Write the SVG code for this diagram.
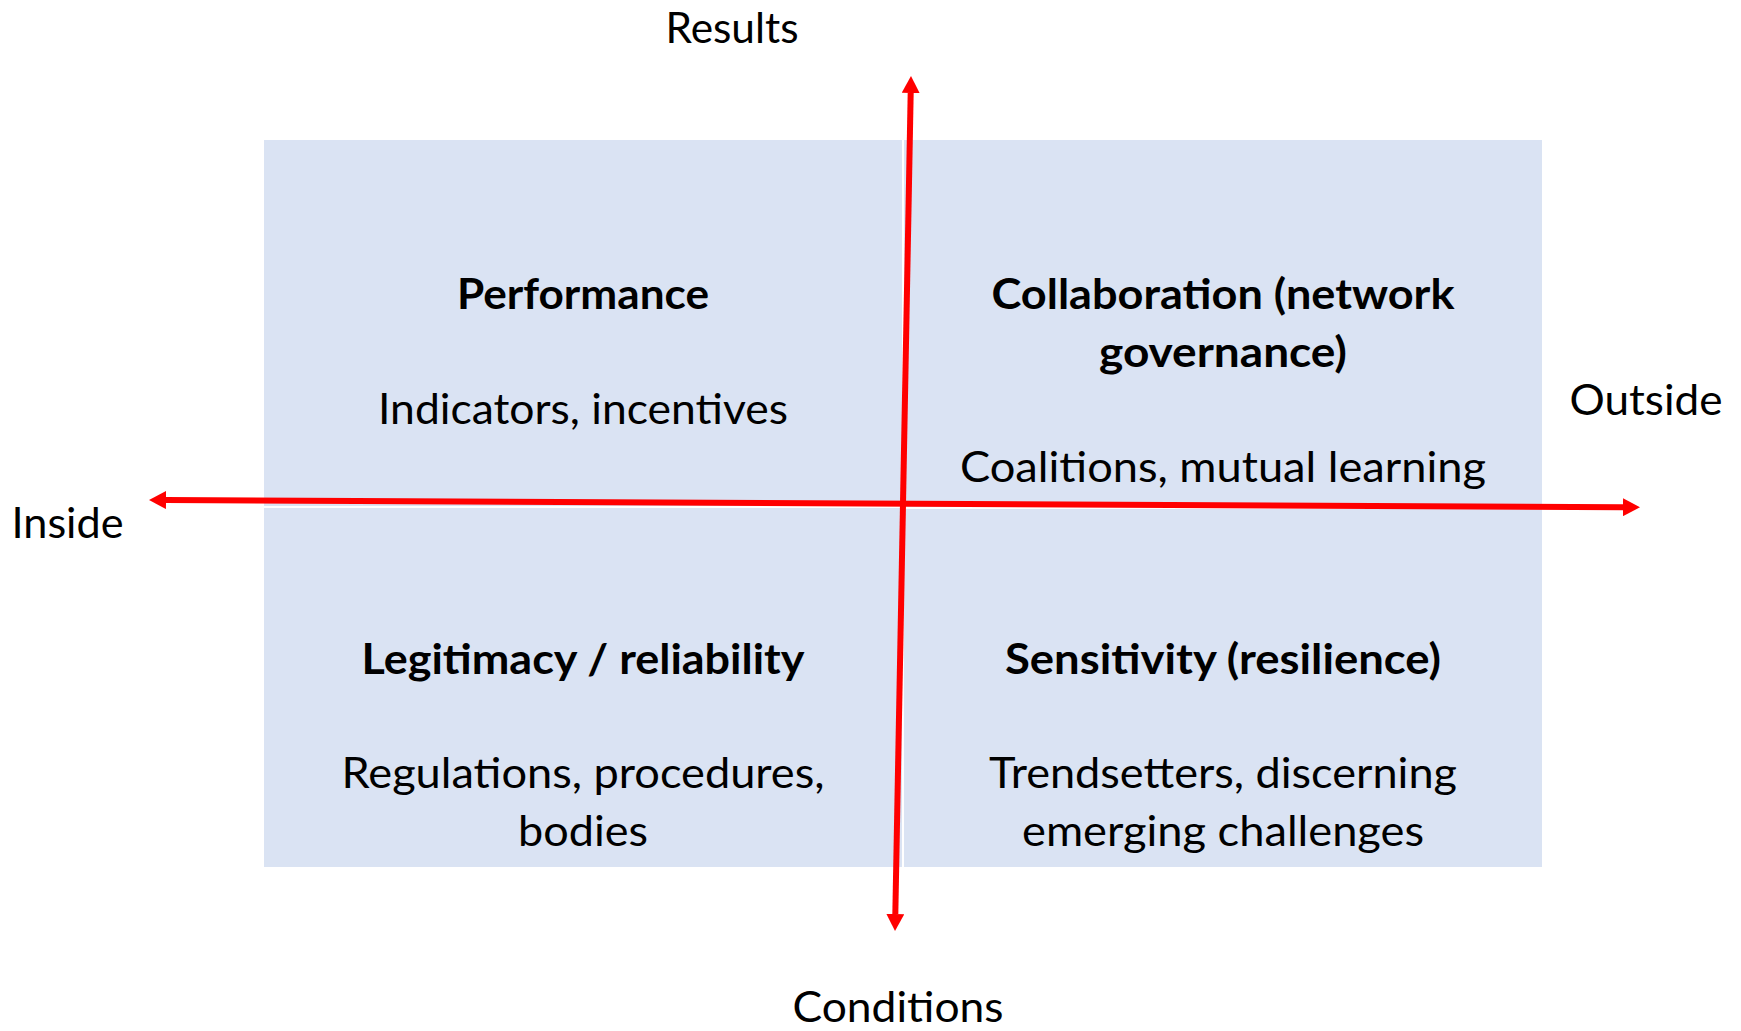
<svg xmlns="http://www.w3.org/2000/svg" width="1741" height="1031" viewBox="0 0 1741 1031">
  <style>
    .quad { fill: #DAE3F3; }
    text { font-family: Lato, "Liberation Sans", sans-serif; font-size: 42px; fill: #000; text-anchor: middle; }
    .title { font-weight: bold; }
    .axis { stroke: #FF0000; stroke-width: 6; fill: none; }
  </style>
  <defs>
    <marker id="head" markerUnits="userSpaceOnUse" markerWidth="18" markerHeight="18" refX="0" refY="9" orient="auto-start-reverse" viewBox="0 0 18 18">
      <path d="M0,0 L17,9 L0,18 Z" fill="#FF0000"/>
    </marker>
  </defs>

  <rect width="1741" height="1031" fill="#FFFFFF"/>

  <!-- Quadrant: top left -->
  <g id="performance">
    <rect class="quad" x="264" y="140" width="638" height="366"/>
    <text class="title" x="583" y="309" textLength="252" lengthAdjust="spacingAndGlyphs">Performance</text>
    <text x="583" y="424" textLength="410" lengthAdjust="spacingAndGlyphs">Indicators, incentives</text>
  </g>

  <!-- Quadrant: top right -->
  <g id="collaboration">
    <rect class="quad" x="904" y="140" width="638" height="367"/>
    <text class="title" x="1223" y="309" textLength="463" lengthAdjust="spacingAndGlyphs">Collaboration (network</text>
    <text class="title" x="1223" y="367" textLength="248" lengthAdjust="spacingAndGlyphs">governance)</text>
    <text x="1223" y="482" textLength="526" lengthAdjust="spacingAndGlyphs">Coalitions, mutual learning</text>
  </g>

  <!-- Quadrant: bottom left -->
  <g id="legitimacy">
    <rect class="quad" x="264" y="508" width="638" height="359"/>
    <text class="title" x="583" y="674" textLength="443" lengthAdjust="spacingAndGlyphs">Legitimacy / reliability</text>
    <text x="583" y="788" textLength="483" lengthAdjust="spacingAndGlyphs">Regulations, procedures,</text>
    <text x="583" y="846" textLength="130" lengthAdjust="spacingAndGlyphs">bodies</text>
  </g>

  <!-- Quadrant: bottom right -->
  <g id="sensitivity">
    <rect class="quad" x="904" y="509" width="638" height="358"/>
    <text class="title" x="1223" y="674" textLength="436" lengthAdjust="spacingAndGlyphs">Sensitivity (resilience)</text>
    <text x="1223" y="788" textLength="468" lengthAdjust="spacingAndGlyphs">Trendsetters, discerning</text>
    <text x="1223" y="846" textLength="402" lengthAdjust="spacingAndGlyphs">emerging challenges</text>
  </g>

  <!-- Axes -->
  <g id="axes">
    <line class="axis" x1="166" y1="500.08" x2="1623" y2="507.2" marker-start="url(#head)" marker-end="url(#head)"/>
    <line class="axis" x1="910.68" y1="93" x2="895.32" y2="914" marker-start="url(#head)" marker-end="url(#head)"/>
  </g>

  <!-- Axis labels -->
  <g id="label-results"><text x="732" y="43" textLength="133" lengthAdjust="spacingAndGlyphs">Results</text></g>
  <g id="label-conditions"><text x="898" y="1022" textLength="211" lengthAdjust="spacingAndGlyphs">Conditions</text></g>
  <g id="label-inside"><text x="67.5" y="538" textLength="112" lengthAdjust="spacingAndGlyphs">Inside</text></g>
  <g id="label-outside"><text x="1646" y="415" textLength="153" lengthAdjust="spacingAndGlyphs">Outside</text></g>
</svg>
